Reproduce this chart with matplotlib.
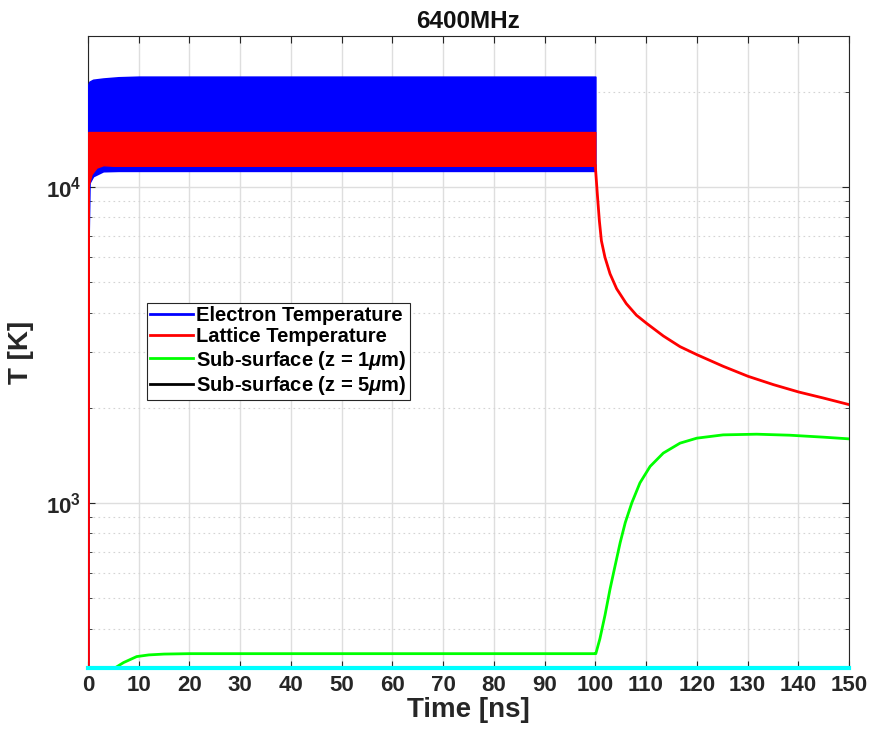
import matplotlib
matplotlib.use("Agg")
import matplotlib.pyplot as plt
from matplotlib.lines import Line2D
from matplotlib.ticker import FixedLocator, NullFormatter

plt.rcParams['font.family'] = ['Liberation Sans', 'DejaVu Sans']
plt.rcParams['font.weight'] = 'bold'
plt.rcParams['mathtext.fontset'] = 'custom'
plt.rcParams['mathtext.rm'] = 'Liberation Sans:bold'
plt.rcParams['mathtext.bf'] = 'Liberation Sans:bold'
plt.rcParams['mathtext.it'] = 'Liberation Sans:bold:italic'

# Electron temperature during the pulse train: envelope of the fast oscillation
e_time = [0, 0.05, 0.3, 1, 3, 6, 10, 100]
e_upper = [300, 21000, 21500, 21800, 22000, 22200, 22300, 22300]
e_lower = [300, 6000, 10300, 10800, 11200, 11230, 11230, 11230]

# Lattice temperature during the pulse train: envelope
l_time = [0, 0.05, 0.7, 1.7, 3.0, 5, 100]
l_upper = [300, 14900, 14900, 14900, 14900, 14900, 14900]
l_lower = [300, 10000, 10960, 11500, 11700, 11650, 11650]

# Lattice temperature after the pulse train (cooling)
d_time = [100, 100.4, 100.8, 101.2, 101.9, 102.9, 104.2, 106.1, 108.1, 110.1,
          113.4, 116.7, 120.1, 125.2, 130.1, 135.1, 140.1, 144.9, 150]
d_temp = [11650, 9465, 7799, 6746, 5981, 5303, 4757, 4269, 3923, 3697,
          3372, 3119, 2938, 2703, 2513, 2365, 2241, 2146, 2045]

# Sub-surface temperature at z = 1 um
g_time = [0, 5.3, 7, 9.6, 12, 15, 20, 100, 100.1, 100.9, 101.9, 102.9, 103.9,
          104.9, 105.9, 107.2, 108.8, 110.8, 113.4, 116.7, 120, 125.2, 131.8,
          138.3, 144.9, 150]
g_temp = [300, 300, 312, 326, 330, 332, 333, 333, 333, 371, 440, 533, 632,
          748, 865, 1000, 1156, 1303, 1436, 1544, 1601, 1640, 1648,
          1636, 1613, 1593]

# Sub-surface temperature at z = 5 um
s_time = [0, 150]
s_temp = [300, 300]

legend_labels = ['Electron Temperature', 'Lattice Temperature',
                 r'Sub-surface (z = 1$\mu$m)', r'Sub-surface (z = 5$\mu$m)']
legend_colors = ['#0000ff', '#ff0000', '#00ff00', '#000000']

x_ticks = list(range(0, 151, 10))

fig = plt.figure(figsize=(8.72, 7.39), dpi=100)
ax = fig.add_axes([0.1009, 0.0961, 0.8727, 0.8552])
ax.set_yscale('log')

ax.fill_between(e_time, e_lower, e_upper, color='#0000ff', lw=1.2, zorder=3)
ax.fill_between(l_time, l_lower, l_upper, color='#ff0000', lw=1.0, zorder=4)
ax.plot(l_time[:2], [l_lower[0], l_lower[1]], color='#ff0000', lw=2.5, zorder=4)
ax.plot(d_time, d_temp, color='#ff0000', lw=2, zorder=4)
ax.plot(g_time, g_temp, color='#00ff00', lw=2, zorder=5)
ax.plot(s_time, s_temp, color='#00ffff', lw=3, zorder=6, clip_on=False)

ax.set_xlim(0, 150)
ax.set_ylim(300, 30000)
ax.set_xticks(x_ticks)
ax.set_xticklabels([str(v) for v in x_ticks])
ax.yaxis.set_major_locator(FixedLocator([1e3, 1e4]))
ax.set_yticklabels([r'$\mathbf{10^{3}}$', r'$\mathbf{10^{4}}$'])
minor = [v * m for m in (100, 1000, 10000) for v in range(2, 10)]
ax.yaxis.set_minor_locator(FixedLocator([v for v in minor if 300 <= v <= 30000]))
ax.yaxis.set_minor_formatter(NullFormatter())

ax.grid(True, which='major', color='#dedede', lw=1.0, zorder=0)
ax.grid(True, which='minor', axis='y', color='#d4d4d4', lw=0.8,
        linestyle=(0, (1.5, 3)), zorder=0)
ax.set_axisbelow(True)

ax.tick_params(which='both', direction='in', top=True, right=True,
               colors='#262626', labelcolor='#262626')
ax.tick_params(which='major', length=5, labelsize=16, width=0.8, pad=5)
ax.tick_params(which='minor', length=3, width=0.6)
for s in ax.spines.values():
    s.set_color('#262626')
    s.set_linewidth(0.8)

for lbl in ax.get_xticklabels() + ax.get_yticklabels():
    lbl.set_fontweight('bold')

ax.set_xlabel('Time [ns]', fontsize=20, fontweight='bold', color='#262626', labelpad=1)
ax.set_ylabel('T [K]', fontsize=20, fontweight='bold', color='#262626', labelpad=8)
ax.set_title('6400MHz', fontsize=17.5, fontweight='bold', color='#111111', pad=6)

handles = [Line2D([], [], color=c, lw=2) for c in legend_colors]
leg = ax.legend(handles, legend_labels, loc='upper left',
                bbox_to_anchor=(0.0775, 0.578),
                prop={'weight': 'bold', 'size': 14.5},
                frameon=True, fancybox=False, framealpha=1, edgecolor='#262626',
                handlelength=2.15, handletextpad=0.15, borderpad=0.15,
                labelspacing=0.12, borderaxespad=0)
leg.get_frame().set_linewidth(0.8)
leg.set_zorder(10)

fig.savefig('out.png', dpi=100, facecolor='white')
